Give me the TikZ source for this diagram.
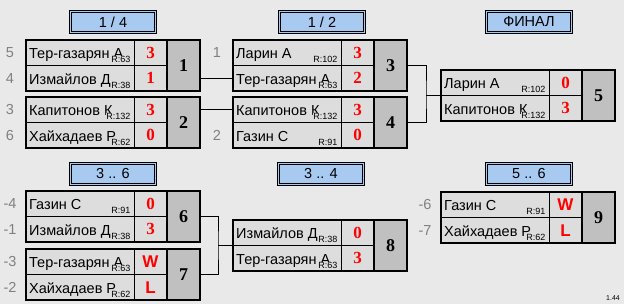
\documentclass[tikz,border=0pt]{standalone}
\usepackage{fontspec}
\setmainfont{Liberation Sans}
\newfontfamily\scorefont{Liberation Serif}
\usetikzlibrary{positioning}
\definecolor{pagegray}{RGB}{233,233,233}
\definecolor{cellgray}{RGB}{221,221,221}
\definecolor{numgray}{RGB}{192,192,192}
\definecolor{headblue}{RGB}{168,202,240}
\definecolor{seedgray}{RGB}{128,128,128}
\definecolor{scorered}{RGB}{255,0,0}
\newcommand{\sansbold}[1]{{\rmfamily\bfseries #1}}
% one match: id, top left, name/rating/score of both rows, match number
\newcommand{\matchbox}[9]{%
  \node[namecell,anchor=north west] (#1-a) at (#2) {};
  \node[namecell,below=0pt of #1-a] (#1-b) {};
  \node[scorecell,right=0pt of #1-a] (#1-sa) {#5};
  \node[scorecell,right=0pt of #1-b] (#1-sb) {#8};
  \node[numcell,anchor=north west] (#1-n) at (#1-sa.north east) {#9};
  \node[nametext] (#1-ta) at ([xshift=3pt,yshift=6.5pt]#1-a.south west) {#3};
  \node[nametext] (#1-tb) at ([xshift=3pt,yshift=6.5pt]#1-b.south west) {#6};
  \node[rating] (#1-ra) at ([xshift=-3pt,yshift=2.5pt]#1-a.south east) {R:#4};
  \node[rating] (#1-rb) at ([xshift=-3pt,yshift=2.5pt]#1-b.south east) {R:#7};
  \draw[matchframe] (#1-a.north west) rectangle (#1-n.south east);
  \draw[matchframe] (#1-n.north west) -- (#1-n.south west);
}
\tikzset{
  namecell/.style={draw,line width=0.8pt,fill=cellgray,minimum width=108pt,minimum height=25.5pt,inner sep=0pt,outer sep=0pt},
  scorecell/.style={draw,line width=0.8pt,fill=cellgray,minimum width=33pt,minimum height=25.5pt,inner sep=0pt,outer sep=0pt,text=scorered,font=\scorefont\bfseries\fontsize{17}{19}\selectfont},
  numcell/.style={draw,line width=0.8pt,fill=numgray,minimum width=33pt,minimum height=51pt,inner sep=0pt,outer sep=0pt,font=\scorefont\bfseries\fontsize{18}{20}\selectfont},
  nametext/.style={anchor=base west,inner sep=0pt,font=\fontsize{14.5}{16}\selectfont},
  rating/.style={anchor=base east,fill=cellgray,inner sep=0.5pt,font=\fontsize{9}{10}\selectfont},
  seed/.style={text=seedgray,inner sep=0pt,font=\fontsize{14.5}{16}\selectfont},
  stagehead/.style={draw,line width=0.7pt,double=headblue,double distance=1.4pt,fill=headblue,minimum width=85pt,minimum height=21.5pt,inner sep=0pt,font=\fontsize{14.5}{16}\selectfont},
  matchframe/.style={line width=2pt},
  link/.style={line width=0.8pt}
}
\begin{document}
\begin{tikzpicture}[x=1pt,y=-1pt]
  \fill[pagegray] (0,0) rectangle (624,304);
  \useasboundingbox (0,0) rectangle (624,304);
  % stage headers
  \node[stagehead] (h14) at (113,22) {1 / 4};
  \node[stagehead] (h12) at (322,22) {1 / 2};
  \node[stagehead] (hfin) at (529,22) {ФИНАЛ};
  \node[stagehead] (h36) at (113,174) {3 .. 6};
  \node[stagehead] (h34) at (321,174) {3 .. 4};
  \node[stagehead] (h56) at (529,174) {5 .. 6};
  % matches
  \matchbox{m1}{26,40}{Тер-газарян А}{63}{3}{Измайлов Д}{38}{1}{1}
  \matchbox{m2}{26,97}{Капитонов К}{132}{3}{Хайхадаев Р}{62}{0}{2}
  \matchbox{m3}{233,40}{Ларин А}{102}{3}{Тер-газарян А}{63}{2}{3}
  \matchbox{m4}{233,97}{Капитонов К}{132}{3}{Газин С}{91}{0}{4}
  \matchbox{m5}{441,70}{Ларин А}{102}{0}{Капитонов К}{132}{3}{5}
  \matchbox{m6}{26,191}{Газин С}{91}{0}{Измайлов Д}{38}{3}{6}
  \matchbox{m7}{26,249}{Тер-газарян А}{63}{\sansbold{W}}{Хайхадаев Р}{62}{\sansbold{L}}{7}
  \matchbox{m8}{233,220}{Измайлов Д}{38}{0}{Тер-газарян А}{63}{3}{8}
  \matchbox{m9}{441,192}{Газин С}{91}{\sansbold{W}}{Хайхадаев Р}{62}{\sansbold{L}}{9}
  % seeds
  \node[seed] (sd1a) at ([xshift=-16pt]m1-a.west) {5};
  \node[seed] (sd1b) at ([xshift=-16pt]m1-b.west) {4};
  \node[seed] (sd2a) at ([xshift=-16pt]m2-a.west) {3};
  \node[seed] (sd2b) at ([xshift=-16pt]m2-b.west) {6};
  \node[seed] (sd3a) at ([xshift=-16pt]m3-a.west) {1};
  \node[seed] (sd4b) at ([xshift=-16pt]m4-b.west) {2};
  \node[seed] (sd6a) at ([xshift=-16pt]m6-a.west) {-4};
  \node[seed] (sd6b) at ([xshift=-16pt]m6-b.west) {-1};
  \node[seed] (sd7a) at ([xshift=-16pt]m7-a.west) {-3};
  \node[seed] (sd7b) at ([xshift=-16pt]m7-b.west) {-2};
  \node[seed] (sd9a) at ([xshift=-16pt]m9-a.west) {-6};
  \node[seed] (sd9b) at ([xshift=-16pt]m9-b.west) {-7};
  % connectors
  \draw[link] (m1-n.east |- m3-b) -- (m3-b.west);
  \draw[link] (m2-n.east |- m4-a) -- (m4-a.west);
  \coordinate (j5) at ([xshift=-15pt]m5-a.south west);
  \draw[link] (m3-n.east) -| (j5) |- (m4-n.east);
  \draw[link] (j5) -- (m5-a.south west);
  \coordinate (j8) at ([xshift=-15pt]m8-a.south west);
  \draw[link] (m6-n.east) -| (j8) |- (m7-n.east);
  \draw[link] (j8) -- (m8-a.south west);
  \node[font=\fontsize{7}{8}\selectfont,inner sep=0pt] (ver) at (613,298.5) {1.44};
\end{tikzpicture}
\end{document}
